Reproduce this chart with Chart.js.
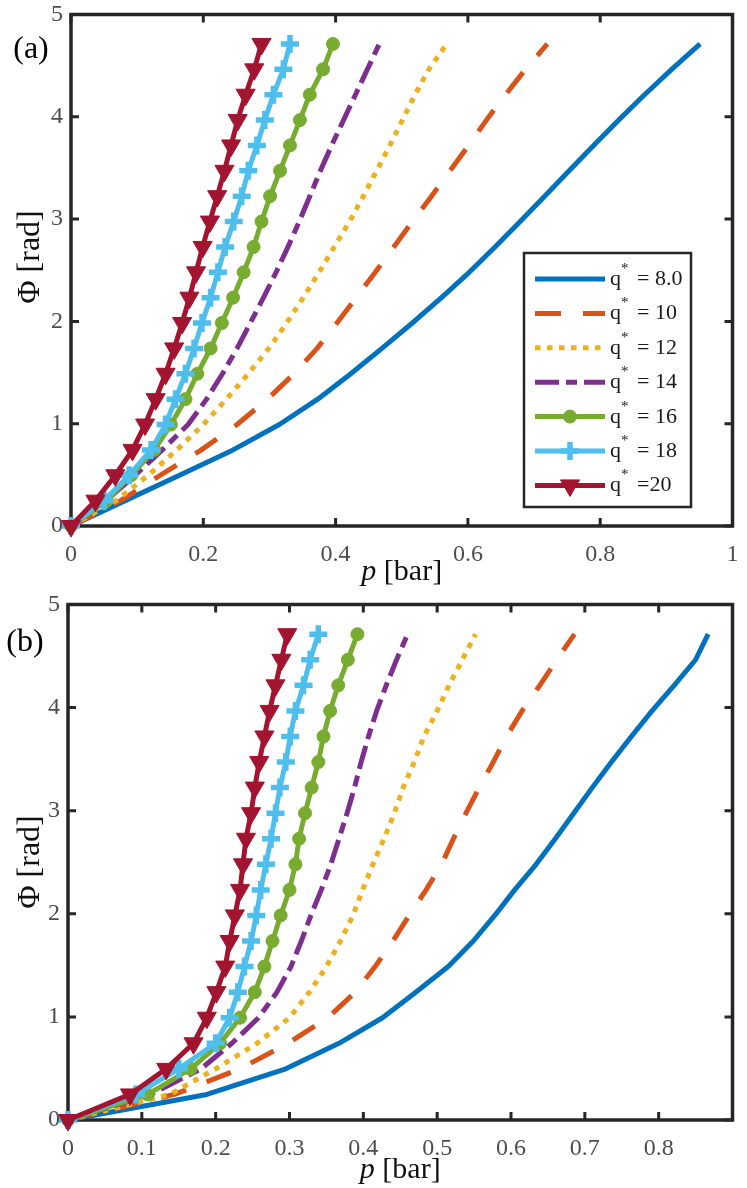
<!DOCTYPE html>
<html>
<head>
<meta charset="utf-8">
<script src="https://cdn.jsdelivr.net/npm/chart.js@4.4.1/dist/chart.umd.min.js"></script>
<style>
  html, body { margin: 0; padding: 0; background: #fff; }
  body { width: 747px; height: 1188px; position: relative; overflow: hidden; }
  canvas { position: absolute; left: 0; }
  #chartA { top: 0; }
  #chartB { top: 590px; }
</style>
</head>
<body>
<canvas id="chartA" width="747" height="590"></canvas>
<canvas id="chartB" width="747" height="598"></canvas>
<script>
'use strict';

// phase steps shared by every curve (rad)
let phi = [0, 0.248, 0.496, 0.744, 0.992, 1.240, 1.488, 1.736, 1.984, 2.232,
  2.480, 2.728, 2.976, 3.224, 3.472, 3.720, 3.968, 4.216, 4.464, 4.712];

let legendText = ['= 8.0', '= 10', '= 12', '= 14', '= 16', '= 18', '=20'];

// panel (a): pressure p [bar] at each phi
let pA8 = [0, 0.082, 0.164, 0.245, 0.315, 0.373, 0.423, 0.470, 0.516, 0.560, 0.602, 0.641, 0.679, 0.716, 0.753, 0.790, 0.828, 0.867, 0.908, 0.951];
let pA10 = [0, 0.075, 0.135, 0.197, 0.251, 0.297, 0.337, 0.372, 0.402, 0.431, 0.460, 0.488, 0.516, 0.545, 0.573, 0.601, 0.628, 0.657, 0.687, 0.720];
let pA12 = [0, 0.068, 0.117, 0.160, 0.200, 0.235, 0.268, 0.299, 0.326, 0.351, 0.375, 0.398, 0.421, 0.442, 0.462, 0.482, 0.501, 0.520, 0.541, 0.568];
let pA14 = [0, 0.053, 0.097, 0.138, 0.177, 0.205, 0.229, 0.251, 0.271, 0.291, 0.310, 0.328, 0.345, 0.361, 0.377, 0.394, 0.412, 0.430, 0.448, 0.466];
let pA16 = [0, 0.054, 0.091, 0.126, 0.151, 0.173, 0.191, 0.211, 0.228, 0.245, 0.261, 0.276, 0.288, 0.301, 0.316, 0.331, 0.346, 0.361, 0.381, 0.396];
let pA18 = [0, 0.050, 0.088, 0.121, 0.143, 0.158, 0.173, 0.186, 0.198, 0.211, 0.222, 0.233, 0.246, 0.258, 0.268, 0.281, 0.293, 0.306, 0.321, 0.331];
let pA20 = [0, 0.037, 0.067, 0.093, 0.112, 0.128, 0.143, 0.156, 0.168, 0.179, 0.189, 0.199, 0.210, 0.221, 0.232, 0.242, 0.252, 0.264, 0.277, 0.288];

// panel (b)
let pB8 = [0, 0.188, 0.295, 0.367, 0.426, 0.471, 0.515, 0.549, 0.578, 0.605, 0.634, 0.660, 0.685, 0.710, 0.736, 0.763, 0.791, 0.821, 0.850, 0.867];
let pB10 = [0, 0.144, 0.233, 0.298, 0.352, 0.389, 0.416, 0.440, 0.462, 0.485, 0.506, 0.522, 0.539, 0.557, 0.576, 0.594, 0.615, 0.639, 0.662, 0.686];
let pB12 = [0, 0.138, 0.200, 0.256, 0.300, 0.327, 0.350, 0.369, 0.386, 0.399, 0.413, 0.428, 0.442, 0.454, 0.469, 0.482, 0.500, 0.516, 0.534, 0.552];
let pB14 = [0, 0.112, 0.180, 0.222, 0.258, 0.283, 0.302, 0.316, 0.329, 0.343, 0.356, 0.367, 0.378, 0.388, 0.397, 0.407, 0.418, 0.431, 0.445, 0.460];
let pB16 = [0, 0.108, 0.166, 0.206, 0.233, 0.253, 0.266, 0.277, 0.288, 0.300, 0.308, 0.313, 0.321, 0.330, 0.339, 0.346, 0.355, 0.366, 0.379, 0.392];
let pB18 = [0, 0.092, 0.150, 0.200, 0.219, 0.230, 0.239, 0.248, 0.255, 0.261, 0.268, 0.275, 0.281, 0.287, 0.295, 0.301, 0.308, 0.319, 0.328, 0.339];
let pB20 = [0, 0.084, 0.133, 0.170, 0.188, 0.201, 0.213, 0.219, 0.226, 0.233, 0.237, 0.241, 0.248, 0.253, 0.259, 0.266, 0.273, 0.281, 0.289, 0.297];

// tick labels
let xTicksA = [0, 0.2, 0.4, 0.6, 0.8, 1];
let xTicksB = [0, 0.1, 0.2, 0.3, 0.4, 0.5, 0.6, 0.7, 0.8];
let yTicks = [0, 1, 2, 3, 4, 5];

let styles = [
  { color: '#0072BD', dash: [] },
  { color: '#D95319', dash: [26, 22] },
  { color: '#EDB120', dash: [5.5, 6.5] },
  { color: '#7E2F8E', dash: [24, 7, 11, 7] },
  { color: '#77AC30', dash: [], marker: 'circle', r: 6.5, bw: 1 },
  { color: '#4DBEEE', dash: [], marker: 'cross', r: 9, bw: 5.5 },
  { color: '#A2142F', dash: [], marker: 'triangle', r: 11, bw: 1 }
];

let serif = '"Liberation Serif", "Times New Roman", serif';
let axisColor = '#262626';
let tickColor = '#4d4d4d';

Chart.defaults.font.family = serif;

function makeDatasets(series) {
  let sets = [];
  for (let i = 0; i < series.length; i++) {
    let st = styles[i];
    sets.push({
      label: 'q* ' + legendText[i],
      data: series[i].map((p, k) => ({ x: p, y: phi[k] })),
      borderColor: st.color,
      backgroundColor: st.color,
      borderWidth: 5,
      borderDash: st.dash,
      borderCapStyle: 'butt',
      borderJoinStyle: 'round',
      pointStyle: st.marker || 'circle',
      pointRadius: st.marker ? st.r : 0,
      pointBorderWidth: st.bw || 0,
      pointBackgroundColor: st.color,
      pointBorderColor: st.color,
      pointRotation: st.marker === 'triangle' ? 180 : 0,
      order: series.length - i,
      clip: false,
      tension: 0
    });
  }
  return sets;
}

function makeScales(xTicks, xMax, yWidth, xHeight) {
  return {
    x: {
      type: 'linear', min: 0, max: xMax,
      afterBuildTicks: s => { s.ticks = xTicks.map(v => ({ value: v })); },
      afterFit: s => { s.height = xHeight; s.paddingLeft = 0; s.paddingRight = 0; },
      grid: { display: false, drawTicks: false },
      border: { display: false },
      ticks: { color: tickColor, font: { family: serif, size: 24 }, padding: 14, maxRotation: 0, autoSkip: false, callback: v => String(v) }
    },
    y: {
      type: 'linear', min: 0, max: 5,
      afterBuildTicks: s => { s.ticks = yTicks.map(v => ({ value: v })); },
      afterFit: s => { s.width = yWidth; s.paddingTop = 0; s.paddingBottom = 0; },
      grid: { display: false, drawTicks: false },
      border: { display: false },
      ticks: { color: tickColor, font: { family: serif, size: 24 }, padding: 8, autoSkip: false, callback: v => String(v) }
    }
  };
}

// box, inward ticks, axis titles, panel label and legend
let frame = {
  id: 'frame',
  beforeDatasetsDraw(chart) {
    let ctx = chart.ctx;
    let a = chart.chartArea;
    let xs = chart.scales.x;
    let ys = chart.scales.y;
    ctx.save();
    ctx.strokeStyle = axisColor;
    ctx.lineWidth = 3;
    ctx.beginPath();
    xs.ticks.forEach(t => {
      let px = xs.getPixelForValue(t.value);
      ctx.moveTo(px, a.bottom); ctx.lineTo(px, a.bottom - 8);
      ctx.moveTo(px, a.top); ctx.lineTo(px, a.top + 8);
    });
    ys.ticks.forEach(t => {
      let py = ys.getPixelForValue(t.value);
      ctx.moveTo(a.left, py); ctx.lineTo(a.left + 8, py);
      ctx.moveTo(a.right, py); ctx.lineTo(a.right - 8, py);
    });
    ctx.stroke();
    ctx.lineWidth = 3.5;
    ctx.strokeRect(a.left, a.top, a.right - a.left, a.bottom - a.top);
    ctx.restore();
  },
  afterDraw(chart, args, opts) {
    let ctx = chart.ctx;
    let a = chart.chartArea;
    ctx.save();
    ctx.fillStyle = '#111';

    // y title
    ctx.save();
    ctx.translate(31, opts.yTitleY);
    ctx.rotate(-Math.PI / 2);
    ctx.font = '32px ' + serif;
    ctx.textAlign = 'center';
    ctx.textBaseline = 'middle';
    ctx.fillText('\u03A6 [rad]', 0, 0);
    ctx.restore();

    // x title, italic p
    ctx.font = 'italic 30px ' + serif;
    let w1 = ctx.measureText('p').width;
    ctx.font = '30px ' + serif;
    let w2 = ctx.measureText(' [bar]').width;
    let x0 = (a.left + a.right) / 2 - (w1 + w2) / 2;
    ctx.textBaseline = 'alphabetic';
    ctx.textAlign = 'left';
    ctx.font = 'italic 30px ' + serif;
    ctx.fillText('p', x0, opts.xTitleY);
    ctx.font = '30px ' + serif;
    ctx.fillText(' [bar]', x0 + w1, opts.xTitleY);

    // panel label
    ctx.font = '32px ' + serif;
    ctx.textAlign = 'center';
    ctx.textBaseline = 'middle';
    ctx.fillStyle = '#000';
    ctx.fillText(opts.panel, opts.panelX, opts.panelY);

    if (opts.legend) {
      let bx = 524, by = 253, bw = 167, bh = 254;
      ctx.fillStyle = '#fff';
      ctx.fillRect(bx, by, bw, bh);
      ctx.strokeStyle = axisColor;
      ctx.lineWidth = 2.5;
      ctx.strokeRect(bx, by, bw, bh);
      chart.data.datasets.forEach((ds, i) => {
        let ry = by + 26 + i * 34.4;
        ctx.save();
        ctx.strokeStyle = ds.borderColor;
        ctx.lineWidth = ds.borderWidth;
        ctx.lineCap = 'butt';
        ctx.setLineDash(ds.borderDash);
        ctx.beginPath();
        ctx.moveTo(535, ry);
        ctx.lineTo(605, ry);
        ctx.stroke();
        ctx.restore();
        if (ds.pointRadius > 0) {
          ctx.save();
          ctx.fillStyle = ds.pointBackgroundColor;
          ctx.strokeStyle = ds.pointBorderColor;
          ctx.lineWidth = ds.pointBorderWidth;
          Chart.helpers.drawPoint(ctx, {
            pointStyle: ds.pointStyle,
            radius: ds.pointRadius,
            borderWidth: ds.pointBorderWidth,
            rotation: ds.pointRotation
          }, 570, ry);
          ctx.restore();
        }
        ctx.fillStyle = '#1a1a1a';
        ctx.textAlign = 'left';
        ctx.textBaseline = 'alphabetic';
        ctx.font = '22px ' + serif;
        ctx.fillText('q', 610, ry + 6);
        ctx.font = '15px ' + serif;
        ctx.fillText('*', 621, ry - 6);
        ctx.font = '22px ' + serif;
        ctx.fillText(legendText[i], 637, ry + 6);
      });
    }
    ctx.restore();
  }
};

let chartA = new Chart(document.getElementById('chartA'), {
  type: 'line',
  data: { datasets: makeDatasets([pA8, pA10, pA12, pA14, pA16, pA18, pA20]) },
  options: {
    responsive: false,
    animation: false,
    events: [],
    layout: { padding: { top: 13, right: 9, left: 0, bottom: 0 } },
    scales: makeScales(xTicksA, 1, 71, 64),
    plugins: {
      legend: { display: false },
      tooltip: { enabled: false },
      frame: { panel: '(a)', panelX: 31, panelY: 50, yTitleY: 257, xTitleY: 580, legend: true }
    }
  },
  plugins: [frame]
});

let chartB = new Chart(document.getElementById('chartB'), {
  type: 'line',
  data: { datasets: makeDatasets([pB8, pB10, pB12, pB14, pB16, pB18, pB20]) },
  options: {
    responsive: false,
    animation: false,
    events: [],
    layout: { padding: { top: 12, right: 4, left: 0, bottom: 0 } },
    scales: makeScales(xTicksB, 0.9, 68, 68),
    plugins: {
      legend: { display: false },
      tooltip: { enabled: false },
      frame: { panel: '(b)', panelX: 25, panelY: 53, yTitleY: 272, xTitleY: 588, legend: false }
    }
  },
  plugins: [frame]
});
</script>
</body>
</html>
